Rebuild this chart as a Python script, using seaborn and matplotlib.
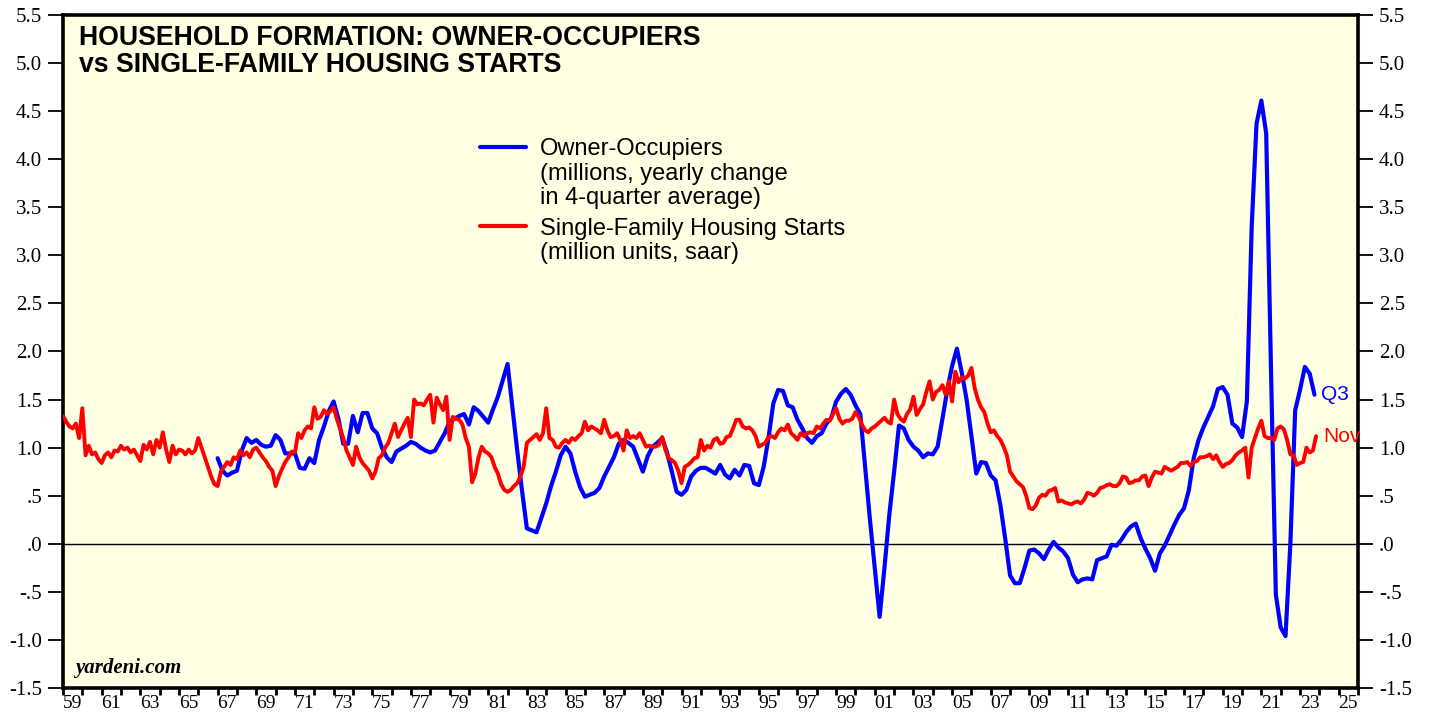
import numpy as np
import pandas as pd
import matplotlib
matplotlib.use("Agg")
import matplotlib.pyplot as plt
import seaborn as sns
from matplotlib.lines import Line2D

# ---------------- data ----------------
owner_start, owner_end = "1966Q4", "2023Q3"
owner_occupiers = [
    0.89,
    0.76, 0.71, 0.74, 0.76,
    0.97, 1.10, 1.05, 1.08,
    1.03, 1.01, 1.02, 1.13,
    1.08, 0.94, 0.94, 0.94,
    0.79, 0.78, 0.89, 0.84,
    1.08, 1.22, 1.38, 1.48,
    1.30, 1.04, 1.04, 1.33,
    1.16, 1.36, 1.36, 1.20,
    1.15, 1.00, 0.90, 0.85,
    0.96, 0.99, 1.02, 1.06,
    1.04, 1.00, 0.97, 0.95,
    0.97, 1.06, 1.15, 1.27,
    1.30, 1.33, 1.35, 1.24,
    1.42, 1.38, 1.32, 1.26,
    1.40, 1.53, 1.70, 1.87,
    1.42, 0.97, 0.55, 0.16,
    0.14, 0.12, 0.27, 0.42,
    0.60, 0.75, 0.92, 1.01,
    0.94, 0.75, 0.59, 0.49,
    0.51, 0.53, 0.58, 0.70,
    0.80, 0.90, 1.04, 1.08,
    1.05, 1.01, 0.88, 0.75,
    0.91, 1.01, 1.05, 1.10,
    0.95, 0.75, 0.54, 0.51,
    0.56, 0.70, 0.76, 0.79,
    0.79, 0.76, 0.73, 0.82,
    0.72, 0.68, 0.77, 0.71,
    0.82, 0.81, 0.63, 0.61,
    0.80, 1.10, 1.46, 1.60,
    1.59, 1.44, 1.42, 1.29,
    1.20, 1.10, 1.05, 1.12,
    1.15, 1.25, 1.31, 1.48,
    1.56, 1.61, 1.55, 1.44,
    1.35, 0.80, 0.25, -0.25,
    -0.76, -0.25, 0.30, 0.75,
    1.23, 1.20, 1.08, 1.01,
    0.97, 0.90, 0.94, 0.93,
    1.01, 1.30, 1.60, 1.85,
    2.03, 1.78, 1.50, 1.12,
    0.73, 0.85, 0.84, 0.71,
    0.66, 0.40, 0.05, -0.33,
    -0.41, -0.41, -0.25, -0.07,
    -0.06, -0.10, -0.16, -0.06,
    0.02, -0.04, -0.08, -0.15,
    -0.32, -0.40, -0.37, -0.36,
    -0.37, -0.17, -0.15, -0.13,
    -0.01, -0.02, 0.04, 0.12,
    0.18, 0.21, 0.06, -0.05,
    -0.15, -0.28, -0.10, -0.02,
    0.09, 0.20, 0.30, 0.37,
    0.56, 0.89, 1.08, 1.21,
    1.32, 1.43, 1.61, 1.63,
    1.55, 1.25, 1.21, 1.11,
    1.48, 3.30, 4.37, 4.61,
    4.27, 1.80, -0.53, -0.87,
    -0.96, 0.00, 1.39, 1.60,
    1.84, 1.77, 1.55,
]

# single-family starts, every other month (Jan, Mar, May, Jul, Sep, Nov)
starts_start, starts_end = "1959-01-01", "2023-11-01"
sf_starts = [
    1.33, 1.27, 1.22, 1.20, 1.25, 1.10,   # 1959
    1.41, 0.92, 1.02, 0.93, 0.95, 0.88,   # 1960
    0.84, 0.92, 0.95, 0.90, 0.97, 0.96,   # 1961
    1.02, 0.98, 1.00, 0.95, 0.98, 0.92,   # 1962
    0.86, 1.03, 0.98, 1.06, 0.93, 1.08,   # 1963
    1.00, 1.16, 0.98, 0.85, 1.02, 0.93,   # 1964
    0.98, 0.97, 0.93, 0.98, 0.94, 0.97,   # 1965
    1.10, 1.00, 0.90, 0.80, 0.70, 0.62,   # 1966
    0.60, 0.75, 0.80, 0.85, 0.82, 0.90,   # 1967
    0.88, 0.97, 0.92, 0.95, 0.90, 0.98,   # 1968
    1.00, 0.95, 0.90, 0.86, 0.80, 0.76,   # 1969
    0.60, 0.70, 0.78, 0.85, 0.90, 0.96,   # 1970
    0.95, 1.15, 1.10, 1.18, 1.22, 1.20,   # 1971
    1.42, 1.30, 1.32, 1.39, 1.35, 1.38,   # 1972
    1.42, 1.30, 1.20, 1.10, 0.97, 0.90,   # 1973
    0.82, 1.01, 0.90, 0.84, 0.80, 0.76,   # 1974
    0.68, 0.75, 0.89, 0.92, 1.00, 1.05,   # 1975
    1.15, 1.25, 1.11, 1.18, 1.25, 1.31,   # 1976
    1.11, 1.50, 1.45, 1.46, 1.44, 1.50,   # 1977
    1.55, 1.26, 1.52, 1.45, 1.39, 1.53,   # 1978
    1.08, 1.32, 1.30, 1.29, 1.24, 1.10,   # 1979
    1.01, 0.64, 0.73, 0.90, 1.01, 0.96,   # 1980
    0.94, 0.90, 0.80, 0.73, 0.62, 0.56,   # 1981
    0.54, 0.56, 0.60, 0.63, 0.70, 0.80,   # 1982
    1.05, 1.08, 1.11, 1.14, 1.08, 1.15,   # 1983
    1.41, 1.10, 1.08, 1.01, 1.00, 1.05,   # 1984
    1.08, 1.05, 1.10, 1.08, 1.12, 1.15,   # 1985
    1.27, 1.18, 1.22, 1.20, 1.18, 1.15,   # 1986
    1.29, 1.18, 1.11, 1.12, 1.15, 1.08,   # 1987
    0.97, 1.18, 1.10, 1.12, 1.10, 1.15,   # 1988
    1.08, 1.01, 1.02, 1.01, 1.01, 1.03,   # 1989
    1.11, 0.98, 0.89, 0.87, 0.84, 0.76,   # 1990
    0.63, 0.80, 0.82, 0.85, 0.89, 0.90,   # 1991
    1.08, 0.97, 1.02, 1.00, 1.08, 1.10,   # 1992
    1.04, 1.05, 1.11, 1.12, 1.20, 1.29,   # 1993
    1.29, 1.22, 1.20, 1.21, 1.18, 1.12,   # 1994
    1.01, 1.03, 1.05, 1.11, 1.12, 1.10,   # 1995
    1.16, 1.20, 1.18, 1.24, 1.15, 1.12,   # 1996
    1.08, 1.15, 1.12, 1.15, 1.16, 1.15,   # 1997
    1.22, 1.20, 1.25, 1.29, 1.28, 1.35,   # 1998
    1.41, 1.30, 1.25, 1.28, 1.28, 1.30,   # 1999
    1.37, 1.32, 1.24, 1.18, 1.16, 1.20,   # 2000
    1.22, 1.25, 1.28, 1.31, 1.27, 1.25,   # 2001
    1.50, 1.35, 1.30, 1.27, 1.35, 1.40,   # 2002
    1.53, 1.34, 1.40, 1.45, 1.58, 1.69,   # 2003
    1.50, 1.58, 1.60, 1.65, 1.55, 1.69,   # 2004
    1.48, 1.79, 1.68, 1.73, 1.72, 1.75,   # 2005
    1.83, 1.62, 1.50, 1.42, 1.37, 1.25,   # 2006
    1.16, 1.18, 1.12, 1.08, 1.01, 0.92,   # 2007
    0.75, 0.70, 0.65, 0.62, 0.59, 0.50,   # 2008
    0.37, 0.36, 0.40, 0.48, 0.51, 0.50,   # 2009
    0.55, 0.56, 0.58, 0.44, 0.45, 0.43,   # 2010
    0.42, 0.41, 0.43, 0.44, 0.42, 0.46,   # 2011
    0.53, 0.52, 0.50, 0.53, 0.58, 0.59,   # 2012
    0.61, 0.62, 0.60, 0.60, 0.63, 0.70,   # 2013
    0.69, 0.63, 0.64, 0.66, 0.66, 0.70,   # 2014
    0.71, 0.60, 0.69, 0.75, 0.74, 0.73,   # 2015
    0.80, 0.78, 0.76, 0.78, 0.80, 0.84,   # 2016
    0.84, 0.85, 0.81, 0.85, 0.86, 0.90,   # 2017
    0.90, 0.91, 0.93, 0.88, 0.92, 0.85,   # 2018
    0.80, 0.83, 0.84, 0.87, 0.92, 0.95,   # 2019
    0.97, 1.00, 0.69, 1.00, 1.10, 1.20,   # 2020
    1.28, 1.12, 1.10, 1.10, 1.08, 1.20,   # 2021
    1.22, 1.19, 1.08, 0.93, 0.92, 0.82,   # 2022
    0.84, 0.85, 1.00, 0.95, 0.97, 1.12,   # 2023
]

y_ticks = [-1.5, -1.0, -0.5, 0.0, 0.5, 1.0, 1.5, 2.0, 2.5, 3.0, 3.5, 4.0, 4.5, 5.0, 5.5]
y_tick_labels = ["-1.5", "-1.0", "-.5", ".0", ".5", "1.0", "1.5", "2.0", "2.5",
                 "3.0", "3.5", "4.0", "4.5", "5.0", "5.5"]
x_label_years = list(range(1959, 2026, 2))
x_tick_labels = [f"{y % 100:02d}" for y in x_label_years]

title = "HOUSEHOLD FORMATION: OWNER-OCCUPIERS\nvs SINGLE-FAMILY HOUSING STARTS"
owner_label = "Owner-Occupiers"
owner_sub = "(millions, yearly change\nin 4-quarter average)"
starts_label = "Single-Family Housing Starts"
starts_sub = "(million units, saar)"

# ---------------- build frames ----------------
q = pd.period_range(owner_start, owner_end, freq="Q")
owner_df = pd.DataFrame({"t": q.year + q.quarter / 4.0, "v": owner_occupiers})
m = pd.date_range(starts_start, starts_end, freq="2MS")
starts_df = pd.DataFrame({"t": m.year + (m.month - 1) / 12.0, "v": sf_starts})

# ---------------- style ----------------
sns.set_theme(style="white")
plt.rcParams["font.family"] = ["Liberation Serif", "DejaVu Serif"]
plt.rcParams["text.color"] = "black"
plt.rcParams["legend.labelcolor"] = "black"

BLUE = "#0000FF"
RED = "#FF0000"
BG = "#FFFFE3"
SANS = ["Liberation Sans", "DejaVu Sans"]

fig = plt.figure(figsize=(14.29, 7.19), dpi=100)
ax = fig.add_axes([63 / 1429, 1 - 688 / 719, 1295 / 1429, 673 / 719])
ax.set_facecolor(BG)

ax.axhline(0, color="black", lw=1.0, zorder=1)

sns.lineplot(data=owner_df, x="t", y="v", ax=ax, color=BLUE, lw=3.0, zorder=3)
sns.lineplot(data=starts_df, x="t", y="v", ax=ax, color=RED, lw=2.8, zorder=4)

ax.set_xlim(1959, 2026)
ax.set_ylim(-1.5, 5.5)
ax.set_xlabel("")
ax.set_ylabel("")

for s in ax.spines.values():
    s.set_color("black")
    s.set_linewidth(2.6)
    s.set_visible(True)

ax.set_yticks(y_ticks)
ax.set_yticklabels(y_tick_labels)
ax.tick_params(axis="y", which="major", left=True, right=True, labelleft=True,
               labelright=True, direction="out", length=11, width=1.3,
               labelsize=15, pad=4, colors="black")

ax.set_xticks(list(range(1959, 2027)))
ax.set_xticklabels([])
ax.set_xticks([y + 0.5 for y in x_label_years], minor=True)
ax.set_xticklabels(x_tick_labels, minor=True)
ax.tick_params(axis="x", which="major", bottom=True, direction="out",
               length=5, width=2.0, colors="black")
ax.tick_params(axis="x", which="minor", bottom=True, length=0, labelsize=14,
               pad=5, colors="black")

# title
ax.text(0.012, 0.985, title, transform=ax.transAxes, ha="left", va="top",
        fontsize=19.2, fontweight="bold", family=SANS,
        linespacing=1.05, color="black")

# yardeni
ax.text(0.009, 0.015, "yardeni.com", transform=ax.transAxes, ha="left",
        va="bottom", fontsize=15, fontweight="bold", style="italic",
        family=["Liberation Serif", "DejaVu Serif"], color="black")

# legend (two groups)
common = dict(loc="upper left", frameon=False, handlelength=1.95,
              handletextpad=0.58, labelspacing=0.12, borderpad=0,
              borderaxespad=0, labelcolor="black",
              prop={"family": SANS, "size": 17})
leg1 = ax.legend([Line2D([], [], color=BLUE, lw=3), Line2D([], [], color="none")],
                 [owner_label, owner_sub], bbox_to_anchor=(0.322, 0.8165), **common)
for t in leg1.get_texts():
    t.set_linespacing(1.1)
ax.add_artist(leg1)
leg2 = ax.legend([Line2D([], [], color=RED, lw=3), Line2D([], [], color="none")],
                 [starts_label, starts_sub], bbox_to_anchor=(0.322, 0.699), **common)
for t in leg2.get_texts():
    t.set_linespacing(1.1)

# end labels
ax.annotate("Q3", xy=(owner_df["t"].iloc[-1], owner_df["v"].iloc[-1]),
            xytext=(5, 0), textcoords="offset points", va="center", ha="left",
            color=BLUE, fontsize=15, family=SANS)
ax.annotate("Nov", xy=(starts_df["t"].iloc[-1], starts_df["v"].iloc[-1]),
            xytext=(5, 0), textcoords="offset points", va="center", ha="left",
            color=RED, fontsize=15, family=SANS)

fig.savefig("out.png", dpi=100, facecolor="white")
